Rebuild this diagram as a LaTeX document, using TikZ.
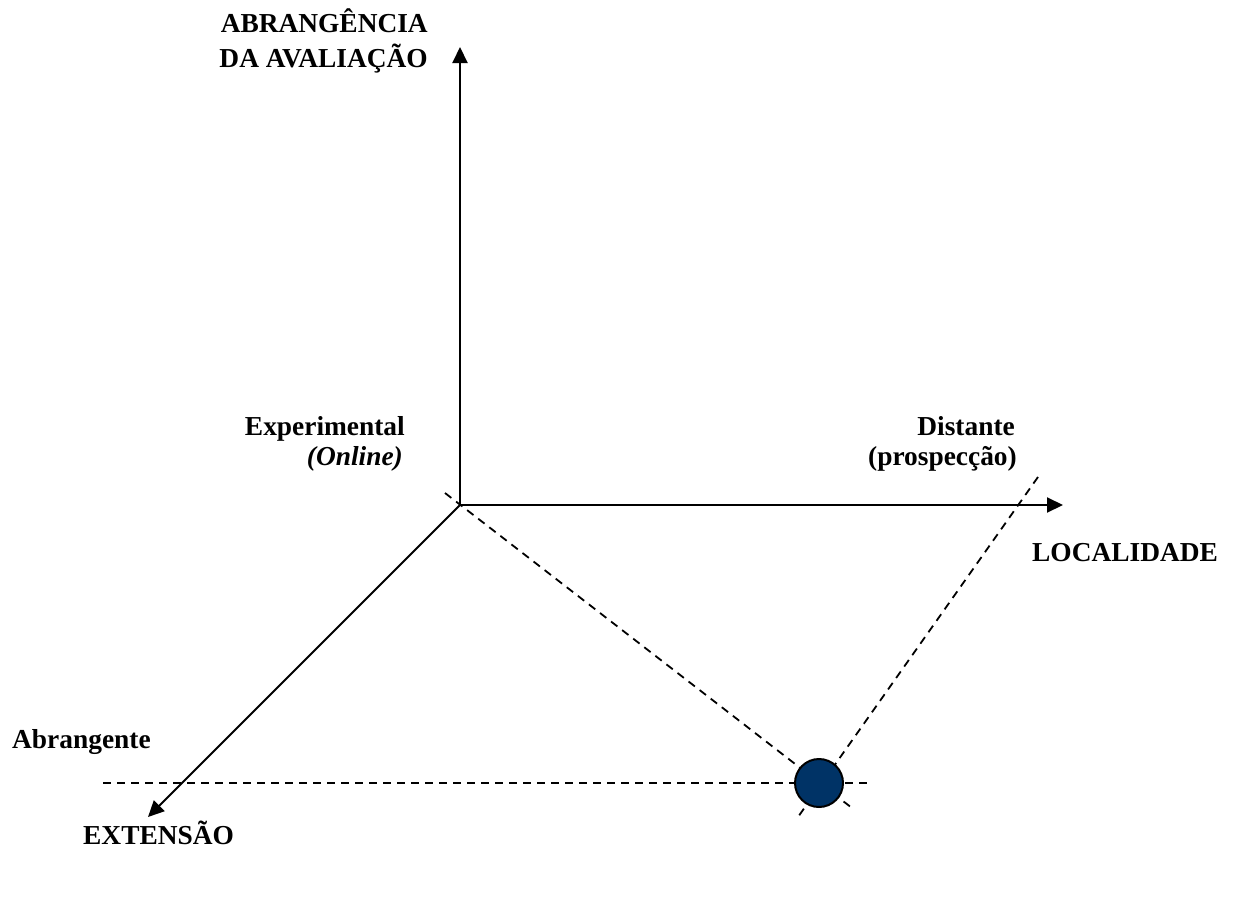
\documentclass[tikz,border=0pt]{standalone}
\usepackage{fontspec}
\setmainfont{Liberation Serif}
\usetikzlibrary{arrows.meta}
\begin{document}
\begin{tikzpicture}[x=1pt,y=-1pt,
  axis/.style={line width=2pt,-{Triangle[length=16pt,width=15pt]}},
  guide/.style={line width=1.8pt,dash pattern=on 8pt off 6pt},
  lbl/.style={font=\fontsize{27.4}{31}\selectfont\bfseries,inner sep=0pt},
  point/.style={circle,draw=black,line width=2pt,fill=pointblue,minimum size=48pt,inner sep=0pt},
]
\definecolor{pointblue}{RGB}{0,51,102}
\useasboundingbox (0,0) rectangle (1236,902);

% axes
\coordinate (O) at (460,505);
\coordinate (up) at (460,47);
\coordinate (right) at (1063,505);
\coordinate (down) at (148,817);

% guide line end points
\coordinate (gA) at (103,783);
\coordinate (gB) at (867,783);
\coordinate (gC) at (445,493);
\coordinate (gD) at (852,808);
\coordinate (gE) at (1038,477);
\coordinate (gF) at (798,817);

\draw[guide] (gA) -- (gB);
\draw[guide] (gC) -- (gD);
\draw[guide] (gE) -- (gF);

\draw[axis] (O) -- (up);
\draw[axis] (O) -- (right);
\draw[axis] (O) -- (down);

\node[point] (P) at (819,783) {};

% labels
\node[lbl,anchor=base east] (t1) at (428,32) {ABRANGÊNCIA};
\node[lbl,anchor=base east] (t2) at (428,67) {DA AVALIAÇÃO};
\node[lbl,anchor=base east] (e1) at (405,435) {Experimental};
\node[lbl,anchor=base east] (e2) at (403,465) {\itshape (Online)};
\node[lbl,anchor=base east] (d1) at (1015,435) {Distante};
\node[lbl,anchor=base east] (d2) at (1017,465) {(prospecção)};
\node[lbl,anchor=base west] (loc) at (1032,561) {LOCALIDADE};
\node[lbl,anchor=base west] (ab) at (12,748) {Abrangente};
\node[lbl,anchor=base west] (ext) at (83,844) {EXTENSÃO};
\end{tikzpicture}
\end{document}
